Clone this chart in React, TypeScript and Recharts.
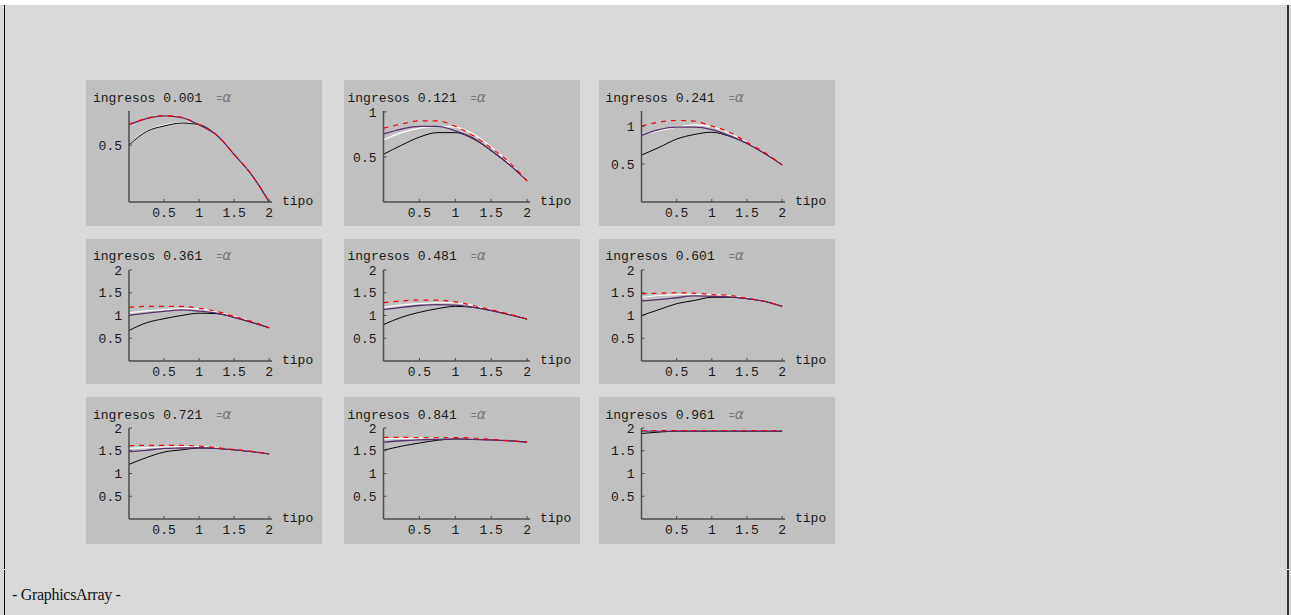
import { LineChart, Line, XAxis, YAxis } from "recharts";

// tipo values sampled along the x axis
const TIPO = [0, 0.25, 0.5, 0.75, 1, 1.25, 1.5, 1.75, 2];
const ALPHAS = ["0.001", "0.121", "0.241", "0.361", "0.481", "0.601", "0.721", "0.841", "0.961"];
const X_TICKS = [0.5, 1, 1.5, 2];
const Y_MAX = [0.8, 1.01, 1.2, 2, 2, 2, 2, 2, 2];
const Y_TICKS = [
  [0.5],
  [0.5, 1],
  [0.5, 1],
  [0.5, 1, 1.5, 2],
  [0.5, 1, 1.5, 2],
  [0.5, 1, 1.5, 2],
  [0.5, 1, 1.5, 2],
  [0.5, 1, 1.5, 2],
  [0.5, 1, 1.5, 2],
];

// ingresos curves, one row per panel (alpha)
const BLACK = [
  [0.5, 0.62, 0.668, 0.694, 0.68, 0.588, 0.418, 0.238, 0],
  [0.53, 0.63, 0.72, 0.77, 0.77, 0.7, 0.57, 0.416, 0.234],
  [0.618, 0.72, 0.83, 0.89, 0.92, 0.867, 0.773, 0.64, 0.49],
  [0.67, 0.84, 0.93, 1.0, 1.05, 1.04, 0.96, 0.85, 0.73],
  [0.8, 0.96, 1.07, 1.15, 1.2, 1.18, 1.11, 1.02, 0.92],
  [1.0, 1.13, 1.26, 1.33, 1.4, 1.4, 1.37, 1.31, 1.2],
  [1.2, 1.35, 1.47, 1.52, 1.56, 1.55, 1.52, 1.48, 1.43],
  [1.51, 1.6, 1.67, 1.73, 1.76, 1.75, 1.74, 1.72, 1.69],
  [1.88, 1.91, 1.93, 1.93, 1.93, 1.93, 1.93, 1.93, 1.93],
];
const WHITE = [
  [0.5, 0.625, 0.675, 0.698, 0.678, 0.588, 0.418, 0.238, 0],
  [0.69, 0.77, 0.82, 0.84, 0.83, 0.755, 0.61, 0.43, 0.234],
  [0.89, 0.94, 0.987, 1.018, 0.995, 0.907, 0.787, 0.645, 0.49],
  [1.06, 1.1, 1.13, 1.15, 1.15, 1.07, 0.98, 0.86, 0.73],
  [1.18, 1.23, 1.26, 1.28, 1.28, 1.22, 1.13, 1.03, 0.92],
  [1.4, 1.44, 1.46, 1.47, 1.46, 1.43, 1.38, 1.31, 1.2],
  [1.55, 1.57, 1.58, 1.59, 1.59, 1.57, 1.53, 1.49, 1.43],
  [1.76, 1.77, 1.78, 1.78, 1.77, 1.76, 1.75, 1.72, 1.69],
  [1.94, 1.94, 1.94, 1.94, 1.94, 1.94, 1.94, 1.94, 1.94],
];
const PURPLE = [
  [0.68, 0.733, 0.758, 0.742, 0.678, 0.588, 0.418, 0.238, 0],
  [0.755, 0.81, 0.84, 0.84, 0.79, 0.71, 0.57, 0.416, 0.234],
  [0.88, 0.955, 0.987, 0.987, 0.955, 0.875, 0.773, 0.64, 0.49],
  [1.0, 1.05, 1.09, 1.125, 1.095, 1.05, 0.96, 0.85, 0.73],
  [1.13, 1.18, 1.22, 1.24, 1.23, 1.18, 1.11, 1.02, 0.92],
  [1.32, 1.35, 1.39, 1.43, 1.42, 1.41, 1.37, 1.31, 1.2],
  [1.48, 1.51, 1.55, 1.56, 1.57, 1.55, 1.52, 1.48, 1.43],
  [1.69, 1.72, 1.74, 1.75, 1.76, 1.75, 1.74, 1.72, 1.69],
  [1.93, 1.93, 1.93, 1.93, 1.93, 1.93, 1.93, 1.93, 1.93],
];
const RED = [
  [0.683, 0.735, 0.76, 0.745, 0.68, 0.59, 0.42, 0.24, 0],
  [0.82, 0.865, 0.9, 0.9, 0.84, 0.737, 0.6, 0.44, 0.234],
  [1.0, 1.053, 1.075, 1.067, 1.0, 0.92, 0.787, 0.653, 0.49],
  [1.18, 1.2, 1.2, 1.2, 1.16, 1.09, 0.98, 0.87, 0.73],
  [1.28, 1.32, 1.34, 1.34, 1.3, 1.22, 1.13, 1.03, 0.92],
  [1.48, 1.49, 1.5, 1.49, 1.46, 1.44, 1.38, 1.31, 1.2],
  [1.61, 1.62, 1.62, 1.62, 1.6, 1.57, 1.53, 1.49, 1.43],
  [1.795, 1.795, 1.79, 1.79, 1.79, 1.78, 1.75, 1.72, 1.69],
  [1.945, 1.945, 1.945, 1.945, 1.945, 1.945, 1.945, 1.945, 1.945],
];

const COL_X = [86, 344, 599];
const ROW_Y = [80, 239, 397];
const ROW_H = [146, 145, 147];
const AXIS_W = [43, 39.5, 42.5];

const MONO = "'Liberation Mono', 'DejaVu Sans Mono', monospace";
const AXIS = "#4d4d4d";

function Panel({ k }: { k: number }) {
  const col = k % 3;
  const row = Math.floor(k / 3);
  const w = AXIS_W[col];
  const h = ROW_H[row];
  const data = TIPO.map((t, i) => ({
    tipo: t,
    black: BLACK[k][i],
    white: WHITE[k][i],
    purple: PURPLE[k][i],
    red: RED[k][i],
  }));

  const title = () => (
    <text x={w - 36} y={row === 1 ? 21 : 22} fontFamily={MONO} fontSize={13} fill="#1a1a1a">
      <tspan>{"ingresos " + ALPHAS[k]}</tspan>
      <tspan dx={14} fontSize={10} fill="#777">=</tspan>
      <tspan fontSize={14} fill="#777" fontStyle="italic" fontFamily="'DejaVu Sans', sans-serif">α</tspan>
    </text>
  );
  const tipo = (p: any) => (
    <text x={p.viewBox.x + p.viewBox.width + 10} y={p.viewBox.y + 3} fontFamily={MONO} fontSize={13} fill="#1a1a1a">
      tipo
    </text>
  );

  return (
    <div
      style={{
        position: "absolute",
        left: COL_X[col],
        top: ROW_Y[row],
        width: 236,
        height: h,
        background: "#c0c0c0",
      }}
    >
      <LineChart width={236} height={h} data={data} margin={{ top: 31, right: 50, bottom: 0, left: 0 }}>
        <XAxis
          dataKey="tipo"
          type="number"
          domain={[0, 2.04]}
          ticks={X_TICKS}
          interval={0}
          height={h - 122}
          axisLine={{ stroke: AXIS, strokeWidth: 1.5 }}
          tickLine={{ stroke: AXIS }}
          tickSize={-3}
          tickMargin={9}
          tick={{ fill: "#1a1a1a", fontSize: 13, fontFamily: MONO }}
          label={tipo}
        />
        <YAxis
          type="number"
          domain={[0, Y_MAX[k]]}
          ticks={Y_TICKS[k]}
          interval={0}
          width={w}
          axisLine={{ stroke: AXIS, strokeWidth: 1.5 }}
          tickLine={{ stroke: AXIS }}
          tickSize={-3}
          tickMargin={10}
          tick={{ fill: "#1a1a1a", fontSize: 13, fontFamily: MONO }}
          label={title}
        />
        <Line dataKey="white" type="monotone" stroke="#ffffff" strokeWidth={1.2} dot={false} activeDot={false} isAnimationActive={false} />
        <Line dataKey="black" type="monotone" stroke="#000000" strokeWidth={1} dot={false} activeDot={false} isAnimationActive={false} />
        <Line dataKey="purple" type="monotone" stroke="#5a2e6e" strokeWidth={1.3} dot={false} activeDot={false} isAnimationActive={false} />
        <Line dataKey="red" type="monotone" stroke="#ff0000" strokeWidth={1.2} strokeDasharray="5 5" dot={false} activeDot={false} isAnimationActive={false} />
      </LineChart>
    </div>
  );
}

export default function App() {
  return (
    <div style={{ position: "absolute", left: 0, top: 0, width: 1291, height: 615, background: "#ffffff", overflow: "hidden" }}>
      <div style={{ position: "absolute", left: 0, top: 5, width: 1291, height: 610, background: "#d9d9d9" }} />
      <div style={{ position: "absolute", left: 4, top: 5, width: 1, height: 610, background: "#000" }} />
      <div style={{ position: "absolute", left: 4, top: 569, width: 1, height: 1, background: "#fff" }} />
      <div style={{ position: "absolute", left: 1287, top: 5, width: 2, height: 610, background: "#333" }} />
      <div style={{ position: "absolute", left: 1287, top: 569, width: 2, height: 1, background: "#fff" }} />
      {ALPHAS.map((_, k) => (
        <Panel key={k} k={k} />
      ))}
      <div
        style={{
          position: "absolute",
          left: 12,
          top: 587,
          fontFamily: "'Liberation Serif', serif",
          fontSize: 16,
          lineHeight: "16px",
          letterSpacing: -0.3,
          color: "#111",
          whiteSpace: "nowrap",
        }}
      >
        - GraphicsArray -
      </div>
    </div>
  );
}
